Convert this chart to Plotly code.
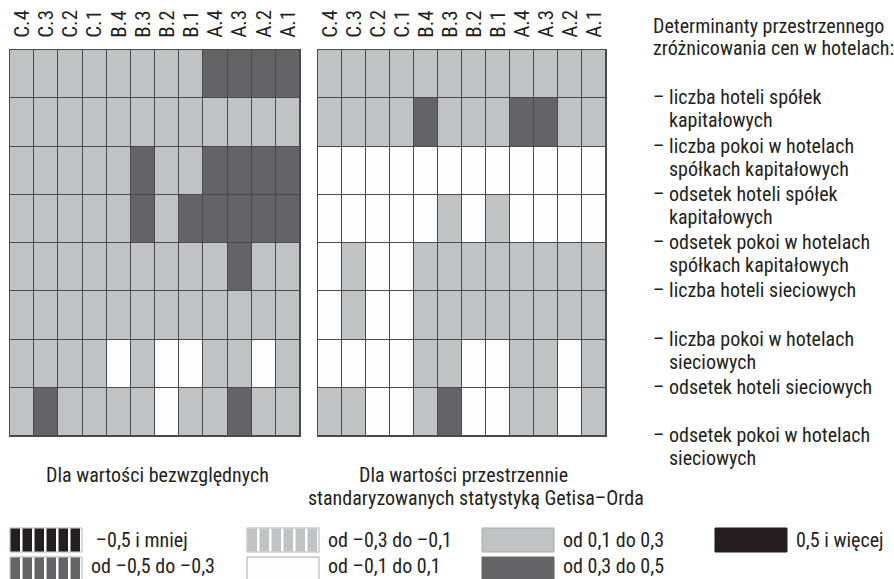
import plotly.graph_objects as go

W, H = 894, 579

# Column categories (same for both panels)
columns = ["C.4", "C.3", "C.2", "C.1", "B.4", "B.3", "B.2", "B.1", "A.4", "A.3", "A.2", "A.1"]

# Determinants (rows, top to bottom)
determinants = [
    ["– liczba hoteli spółek", "kapitałowych"],
    ["– liczba pokoi w hotelach", "spółkach kapitałowych"],
    ["– odsetek hoteli spółek", "kapitałowych"],
    ["– odsetek pokoi w hotelach", "spółkach kapitałowych"],
    ["– liczba hoteli sieciowych"],
    ["– liczba pokoi w hotelach", "sieciowych"],
    ["– odsetek hoteli sieciowych"],
    ["– odsetek pokoi w hotelach", "sieciowych"],
]

# Correlation class values: absolute values panel
absolute_vals = [
    [0.2, 0.2, 0.2, 0.2, 0.2, 0.2, 0.2, 0.2, 0.4, 0.4, 0.4, 0.4],
    [0.2, 0.2, 0.2, 0.2, 0.2, 0.2, 0.2, 0.2, 0.2, 0.2, 0.2, 0.2],
    [0.2, 0.2, 0.2, 0.2, 0.2, 0.4, 0.2, 0.2, 0.4, 0.4, 0.4, 0.4],
    [0.2, 0.2, 0.2, 0.2, 0.2, 0.4, 0.2, 0.4, 0.4, 0.4, 0.4, 0.4],
    [0.2, 0.2, 0.2, 0.2, 0.2, 0.2, 0.2, 0.2, 0.2, 0.4, 0.2, 0.2],
    [0.2, 0.2, 0.2, 0.2, 0.2, 0.2, 0.2, 0.2, 0.2, 0.2, 0.2, 0.2],
    [0.2, 0.2, 0.2, 0.2, 0.0, 0.2, 0.0, 0.0, 0.2, 0.2, 0.0, 0.2],
    [0.2, 0.4, 0.2, 0.2, 0.2, 0.2, 0.0, 0.2, 0.2, 0.4, 0.2, 0.2],
]

# Correlation class values: Getis-Ord standardized panel
getis_ord_vals = [
    [0.2, 0.2, 0.2, 0.2, 0.2, 0.2, 0.2, 0.2, 0.2, 0.2, 0.2, 0.2],
    [0.2, 0.2, 0.2, 0.2, 0.4, 0.2, 0.2, 0.2, 0.4, 0.4, 0.2, 0.2],
    [0.0, 0.0, 0.0, 0.0, 0.0, 0.0, 0.0, 0.0, 0.0, 0.0, 0.0, 0.0],
    [0.0, 0.0, 0.0, 0.0, 0.0, 0.2, 0.0, 0.2, 0.0, 0.0, 0.0, 0.0],
    [0.0, 0.2, 0.0, 0.0, 0.2, 0.2, 0.2, 0.2, 0.2, 0.2, 0.2, 0.2],
    [0.0, 0.2, 0.0, 0.0, 0.2, 0.2, 0.2, 0.2, 0.2, 0.2, 0.2, 0.2],
    [0.0, 0.0, 0.0, 0.0, 0.2, 0.2, 0.0, 0.0, 0.2, 0.2, 0.0, 0.2],
    [0.2, 0.2, 0.0, 0.0, 0.2, 0.4, 0.0, 0.0, 0.2, 0.2, 0.0, 0.2],
]

panel_titles = [
    ["Dla wartości bezwzględnych"],
    ["Dla wartości przestrzennie", "standaryzowanych statystyką Getisa–Orda"],
]
header = ["Determinanty przestrzennego", "zróżnicowania cen w hotelach:"]

legend_labels = [
    " –0,5 i mniej", "od –0,5 do –0,3",
    "od –0,3 do –0,1", "od –0,1 do 0,1",
    "od 0,1 do 0,3", "od 0,3 do 0,5",
    "0,5 i więcej",
]
class_edges = [-0.5, -0.3, -0.1, 0.1, 0.3, 0.5]

BLACK = "#231f20"
DARK = "#646466"
LIGHT = "#c1c2c4"
WHITE = "#fdfdfd"
LINE = "#4a4a4a"
TEXT = "#231f20"
class_colors = [BLACK, DARK, LIGHT, WHITE, LIGHT, DARK, BLACK]

ZMIN, ZMAX = -0.7, 0.7


def norm(v):
    return (v - ZMIN) / (ZMAX - ZMIN)


# Stepped colour scale built from class edges
bounds = [0.0] + [norm(e) for e in class_edges] + [1.0]
colorscale = []
for i, c in enumerate(class_colors):
    colorscale.append([bounds[i], c])
    colorscale.append([bounds[i + 1], c])


def px_x(x):
    return x / W


def px_y(y):
    return 1 - y / H


FONT = "Roboto Condensed, Liberation Sans Narrow, sans-serif"
GRID_TOP, GRID_BOTTOM = 50, 436
panels = [(10, 300, absolute_vals), (318, 606, getis_ord_vals)]
rows = list(range(1, len(determinants) + 1))

fig = go.Figure()
for k, (x0, x1, vals) in enumerate(panels):
    sfx = "" if k == 0 else str(k + 1)
    fig.add_trace(go.Heatmap(
        z=vals, x=columns, y=rows,
        zmin=ZMIN, zmax=ZMAX, colorscale=colorscale, showscale=False,
        xgap=1, ygap=1, hoverinfo="skip",
        xaxis="x" + sfx, yaxis="y" + sfx,
    ))
    fig.layout["xaxis" + sfx] = dict(
        domain=[px_x(x0), px_x(x1)], anchor="y" + sfx, side="top",
        tickmode="array", tickvals=columns, ticktext=columns,
        tickangle=-90, ticks="", showgrid=False, zeroline=False,
        tickfont=dict(family=FONT, size=21, color=TEXT),
        showline=True, mirror=True, linecolor=LINE, linewidth=1,
        ticklabelstandoff=7, fixedrange=True,
    )
    fig.layout["yaxis" + sfx] = dict(
        domain=[px_y(GRID_BOTTOM), px_y(GRID_TOP)], anchor="x" + sfx,
        autorange="reversed", showticklabels=False, ticks="",
        showgrid=False, zeroline=False,
        showline=True, mirror=True, linecolor=LINE, linewidth=1, fixedrange=True,
    )

annotations = []


def text(x, y, s, anchor="left", size=20):
    annotations.append(dict(
        x=px_x(x), y=px_y(y), xref="paper", yref="paper", text=s,
        showarrow=False, xanchor=anchor, yanchor="middle",
        font=dict(family=FONT, size=size, color=TEXT),
    ))


# Header and row descriptions on the right
for i, line in enumerate(header):
    text(651, 26 + 22 * i, line)
row_h = (GRID_BOTTOM - GRID_TOP) / len(determinants)
for i, item in enumerate(determinants):
    y0 = GRID_TOP + row_h * (i + 1) - 1
    for j, line in enumerate(item):
        if j == 0:
            text(651, y0 + 23 * j, line)
        else:
            text(667, y0 + 23 * j, line)

# Panel captions
text(157, 475, panel_titles[0][0], anchor="center")
text(464, 475, panel_titles[1][0], anchor="center")
text(476, 498, panel_titles[1][1], anchor="center")

# Class legend
shapes = []


def rect(x0, y0, x1, y1, fill, line=None):
    shapes.append(dict(
        type="rect", xref="paper", yref="paper",
        x0=px_x(x0), x1=px_x(x1), y0=px_y(y1), y1=px_y(y0),
        fillcolor=fill, line=dict(width=1 if line else 0, color=line or fill),
        layer="above",
    ))


def striped(x0, y0, color):
    rect(x0, y0, x0 + 72, y0 + 24, "#ffffff", "#b0b0b0")
    for k in range(6):
        rect(x0 + 12 * k + 0.5, y0 + 0.5, x0 + 12 * k + 10, y0 + 23.5, color)


ROW1, ROW2 = 528, 557
legend_slots = [
    (10, ROW1, True), (10, ROW2, True),
    (247, ROW1, True), (247, ROW2, False),
    (482, ROW1, False), (482, ROW2, False),
    (715, ROW1, False),
]
for (bx, by, stripe), label, color in zip(legend_slots, legend_labels, class_colors):
    if stripe:
        striped(bx, by, color)
    else:
        rect(bx, by, bx + 72, by + 24, color, "#a8a8a8" if color in (WHITE, LIGHT) else color)
    text(bx + 79, by + (12 if by == ROW1 else 9), label)

fig.update_layout(
    width=W, height=H, margin=dict(l=0, r=0, t=0, b=0),
    paper_bgcolor="#ffffff", plot_bgcolor=LINE,
    annotations=annotations, shapes=shapes, showlegend=False,
)

fig.write_html("out.html")
